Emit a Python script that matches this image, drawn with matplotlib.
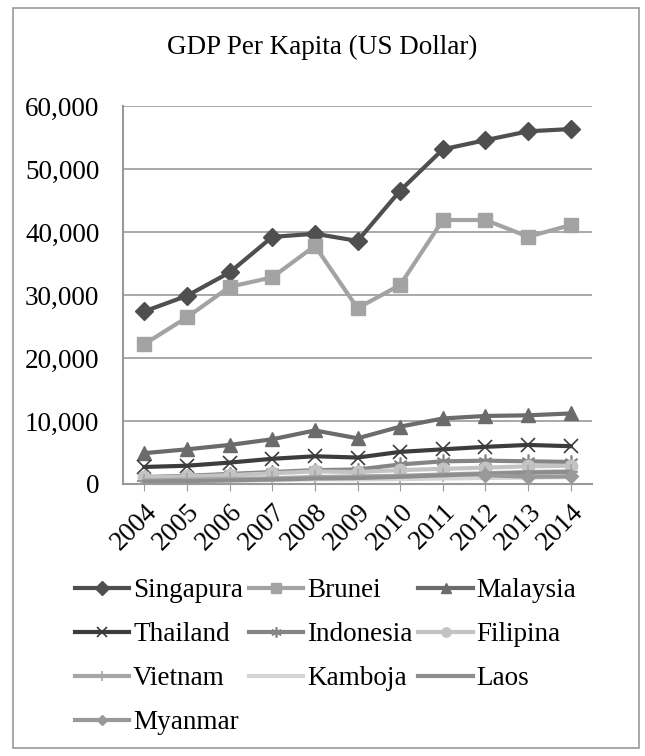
import matplotlib
matplotlib.use("Agg")
import matplotlib.pyplot as plt
import numpy as np
from matplotlib.patches import Rectangle
from matplotlib.ticker import FuncFormatter

plt.rcParams["font.family"] = ["Liberation Serif", "DejaVu Serif"]

years = ["2004", "2005", "2006", "2007", "2008", "2009", "2010", "2011", "2012", "2013", "2014"]
nan = np.nan

singapura = [27400, 29870, 33580, 39220, 39720, 38580, 46570, 53120, 54580, 55980, 56340]
brunei = [22200, 26450, 31300, 32800, 37800, 27900, 31600, 41900, 41900, 39250, 41100]
malaysia = [4900, 5500, 6200, 7100, 8500, 7250, 9100, 10400, 10800, 10900, 11200]
thailand = [2700, 2900, 3400, 4000, 4400, 4200, 5100, 5500, 5900, 6200, 6000]
indonesia = [1100, 1300, 1600, 1900, 2200, 2300, 3100, 3600, 3700, 3600, 3500]
filipina = [1050, 1200, 1400, 1700, 2000, 1900, 2200, 2400, 2600, 2800, 2900]
vietnam = [550, 700, 800, 900, 1100, 1200, 1300, 1500, 1700, 1900, 2000]
kamboja = [400, 470, 540, 630, 740, 730, 780, 880, 950, 1030, 1100]
laos = [420, 470, 580, 700, 880, 940, 1140, 1380, 1580, 1800, 1900]
myanmar = [nan, nan, nan, nan, nan, nan, nan, nan, 1400, 1150, 1200]

series = [
    ("Singapura", singapura, "#4f4f4f", "D", 9),
    ("Brunei", brunei, "#a3a3a3", "s", 10),
    ("Malaysia", malaysia, "#6b6b6b", "^", 10),
    ("Thailand", thailand, "#3c3c3c", "x", 10),
    ("Indonesia", indonesia, "#858585", (6, 2, 0), 10),
    ("Filipina", filipina, "#c3c3c3", "o", 9),
    ("Vietnam", vietnam, "#a6a6a6", "|", 10),
    ("Kamboja", kamboja, "#d4d4d4", "_", 10),
    ("Laos", laos, "#8d8d8d", "_", 10),
    ("Myanmar", myanmar, "#999999", "D", 7),
]

fig = plt.figure(figsize=(6.45, 7.56), dpi=100)
fig.patches.append(Rectangle((13 / 645, 8 / 756), 626 / 645, 740 / 756,
                             transform=fig.transFigure, fill=False,
                             edgecolor="#9a9a9a", linewidth=1.2))

ax = fig.add_axes([0.1907, 0.3598, 0.7273, 0.5])
x = np.arange(len(years))
handles = []
for name, vals, color, marker, ms in series:
    mew = 1.2 if marker in ("x", "|", "_", (6, 2, 0)) else 1
    h, = ax.plot(x, vals, color=color, linewidth=3, marker=marker, markersize=ms,
                 markeredgecolor=color, markerfacecolor=color, markeredgewidth=mew,
                 label=name)
    handles.append(h)

ax.set_xlim(-0.5, len(years) - 0.5)
ax.set_ylim(0, 60000)
ax.set_yticks(np.arange(0, 60001, 10000))
ax.yaxis.set_major_formatter(FuncFormatter(lambda v, p: f"{int(v):,}"))
ax.set_xticks(x)
ax.set_xticklabels(years, rotation=45, ha="right", rotation_mode="anchor")
ax.tick_params(axis="y", length=0, labelsize=19.5, pad=17)
ax.tick_params(axis="x", length=5, color="#999999", labelsize=19.5, pad=6)
ax.grid(axis="y", color="#999999", linewidth=1.2)
ax.set_axisbelow(True)
for side in ("top", "right"):
    ax.spines[side].set_visible(False)
for side in ("left", "bottom"):
    ax.spines[side].set_color("#999999")
    ax.spines[side].set_linewidth(1.5)

fig.text(0.5, 0.937, "GDP Per Kapita (US Dollar)", ha="center", va="center", fontsize=19.5)

# legend is filled row by row in the reference, matplotlib fills by column
order = [0, 3, 6, 9, 1, 4, 7, 2, 5, 8]
fig.legend(handles=[handles[i] for i in order], loc="upper left",
           bbox_to_anchor=(0.116, 0.235), ncol=3, frameon=False, fontsize=19.5,
           handlelength=2.0, handletextpad=0.15, columnspacing=0.22,
           labelspacing=0.7, borderaxespad=0, borderpad=0, markerscale=0.75)

fig.savefig("out.png", dpi=100)
